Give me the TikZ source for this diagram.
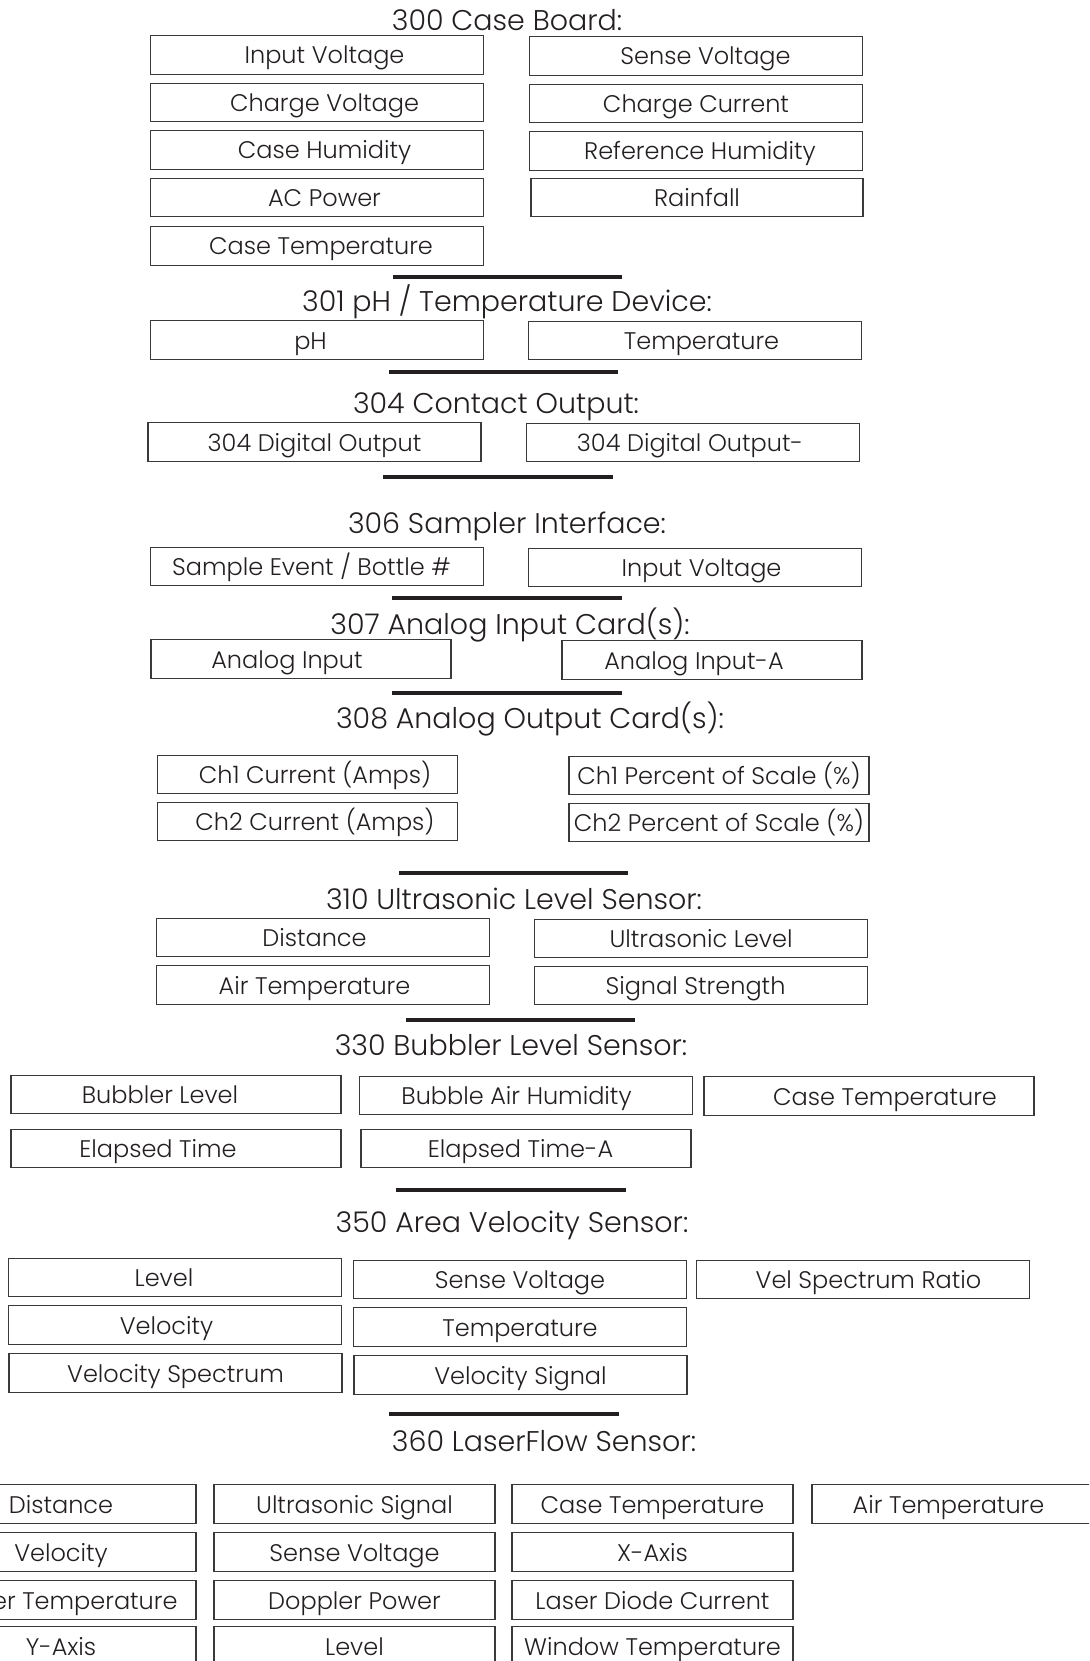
\documentclass[tikz,border=0pt]{standalone}
\usepackage{fontspec}
\setmainfont{Poppins}[UprightFont=* Light]
\usetikzlibrary{positioning}
\definecolor{inkgray}{HTML}{231F20}
\definecolor{boxgray}{HTML}{3A3A3A}
\tikzset{
  fieldbox/.style={draw=boxgray, line width=1.3pt, inner sep=0pt, minimum height=38.5pt, text height=18pt, text depth=0pt, text=inkgray, font=\fontsize{24}{28}\selectfont},
  widebox/.style={fieldbox, minimum width=333pt},
  midbox/.style={fieldbox, minimum width=300pt},
  slimbox/.style={fieldbox, minimum width=281pt},
  textshift/.style={execute at begin node={\hspace*{#1}}},
  headline/.style={anchor=base, inner sep=0pt, text=inkgray, font=\fontsize{28.5}{34}\selectfont},
  sepbar/.style={draw=inkgray, line width=4.5pt}
}

\begin{document}
\begin{tikzpicture}[x=1pt, y=-1pt]
  \clip (0,0) rectangle (1089,1661);

  % 300 case board
  \node[headline] (t300) at (507,31) {300 Case Board:};
  \node[widebox, textshift=15pt] (cb-inv) at (317,55) {Input Voltage};
  \node[widebox, textshift=15pt] (cb-chv) at (317,102.5) {Charge Voltage};
  \node[widebox, textshift=15pt] (cb-hum) at (317,150) {Case Humidity};
  \node[widebox, textshift=15pt] (cb-ac) at (317,197.5) {AC Power};
  \node[widebox, textshift=8pt] (cb-tmp) at (317,246) {Case Temperature};
  \node[widebox, textshift=19pt] (cb-sv) at (696,56) {Sense Voltage};
  \node[widebox] (cb-chc) at (696,103.5) {Charge Current};
  \node[widebox, textshift=8pt] (cb-ref) at (696,151) {Reference Humidity};
  \node[widebox, minimum width=332pt] (cb-rain) at (697,197.5) {Rainfall};
  \draw[sepbar] (393,277) -- (622,277);

  % 301 pH / temperature
  \node[headline] (t301) at (507,312) {301 pH / Temperature Device:};
  \node[widebox, textshift=-13pt] (ph-ph) at (317,340) {pH};
  \node[widebox, textshift=13pt] (ph-tmp) at (695,340.5) {Temperature};
  \draw[sepbar] (389,372) -- (618,372);

  % 304 contact output
  \node[headline] (t304) at (496,413) {304 Contact Output:};
  \node[widebox] (co-do) at (314.5,442) {304 Digital Output};
  \node[widebox, textshift=-6pt] (co-dom) at (693,442.5) {304 Digital Output-};
  \draw[sepbar] (383,477) -- (613,477);

  % 306 sampler interface
  \node[headline] (t306) at (507,533) {306 Sampler Interface:};
  \node[widebox, textshift=-11pt] (si-ev) at (317,566.5) {Sample Event / Bottle \#};
  \node[widebox, textshift=13pt] (si-inv) at (695,567.5) {Input Voltage};
  \draw[sepbar] (392,598) -- (622,598);

  % 307 analog input
  \node[headline] (t307) at (510,634) {307 Analog Input Card(s):};
  \node[midbox, textshift=-28pt] (ai-a) at (301,659) {Analog Input};
  \node[midbox, textshift=-36pt] (ai-b) at (712,660) {Analog Input-A};
  \draw[sepbar] (392,693) -- (622,693);

  % 308 analog output
  \node[headline] (t308) at (530,728) {308 Analog Output Card(s):};
  \node[midbox, textshift=15pt] (ao-c1) at (307.5,774.5) {Ch1 Current (Amps)};
  \node[midbox, textshift=15pt] (ao-c2) at (307.5,821.5) {Ch2 Current (Amps)};
  \node[midbox] (ao-p1) at (719,775.5) {Ch1 Percent of Scale (\%)};
  \node[midbox] (ao-p2) at (719,822.5) {Ch2 Percent of Scale (\%)};
  \draw[sepbar] (399,873) -- (628,873);

  % 310 ultrasonic level
  \node[headline] (t310) at (514,909) {310 Ultrasonic Level Sensor:};
  \node[widebox, textshift=-17pt] (us-dist) at (323,937.5) {Distance};
  \node[widebox, textshift=-17pt] (us-air) at (323,985) {Air Temperature};
  \node[widebox] (us-lvl) at (701,938.5) {Ultrasonic Level};
  \node[widebox, textshift=-11pt] (us-sig) at (701,985.5) {Signal Strength};
  \draw[sepbar] (406,1020) -- (635,1020);

  % 330 bubbler level
  \node[headline] (t330) at (511,1055) {330 Bubbler Level Sensor:};
  \node[widebox, minimum width=330pt, textshift=-32pt] (bu-lvl) at (176,1094.5) {Bubbler Level};
  \node[widebox, minimum width=330pt, textshift=-36pt] (bu-et) at (176,1148.5) {Elapsed Time};
  \node[widebox, textshift=-19pt] (bu-hum) at (526,1095.5) {Bubble Air Humidity};
  \node[widebox, minimum width=330pt, textshift=-11pt] (bu-eta) at (526,1148.5) {Elapsed Time-A};
  \node[widebox, minimum width=330pt, textshift=32pt] (bu-tmp) at (869,1096) {Case Temperature};
  \draw[sepbar] (396,1190) -- (626,1190);

  % 350 area velocity
  \node[headline] (t350) at (512,1232) {350 Area Velocity Sensor:};
  \node[widebox, textshift=-22pt] (av-lvl) at (175,1277.5) {Level};
  \node[widebox, textshift=-17pt] (av-vel) at (175,1325) {Velocity};
  \node[widebox] (av-spec) at (175.5,1373) {Velocity Spectrum};
  \node[widebox] (av-sv) at (520,1279.5) {Sense Voltage};
  \node[widebox] (av-tmp) at (520,1327) {Temperature};
  \node[widebox] (av-sig) at (520.5,1375) {Velocity Signal};
  \node[widebox, textshift=11pt] (av-ratio) at (863,1279.5) {Vel Spectrum Ratio};
  \draw[sepbar] (389,1414) -- (619,1414);

  % 360 laserflow
  \node[headline] (t360) at (544,1451) {360 LaserFlow Sensor:};
  \node[slimbox, textshift=11pt] (lf-dist) at (55.5,1504) {Distance};
  \node[slimbox, textshift=11pt] (lf-vel) at (55.5,1552) {Velocity};
  \node[slimbox, textshift=11pt] (lf-wtmp) at (55.5,1600) {Water Temperature};
  \node[slimbox, textshift=11pt] (lf-y) at (55.5,1646) {Y-Axis};
  \node[slimbox] (lf-us) at (354.5,1504) {Ultrasonic Signal};
  \node[slimbox] (lf-sv) at (354.5,1552) {Sense Voltage};
  \node[slimbox] (lf-dop) at (354.5,1600) {Doppler Power};
  \node[slimbox] (lf-lvl) at (354.5,1646) {Level};
  \node[slimbox] (lf-ctmp) at (652.5,1504) {Case Temperature};
  \node[slimbox] (lf-x) at (652.5,1552) {X-Axis};
  \node[slimbox] (lf-ldc) at (652.5,1600) {Laser Diode Current};
  \node[slimbox] (lf-win) at (652.5,1646) {Window Temperature};
  \node[slimbox, textshift=-8pt] (lf-air) at (952.5,1504) {Air Temperature};
\end{tikzpicture}
\end{document}
